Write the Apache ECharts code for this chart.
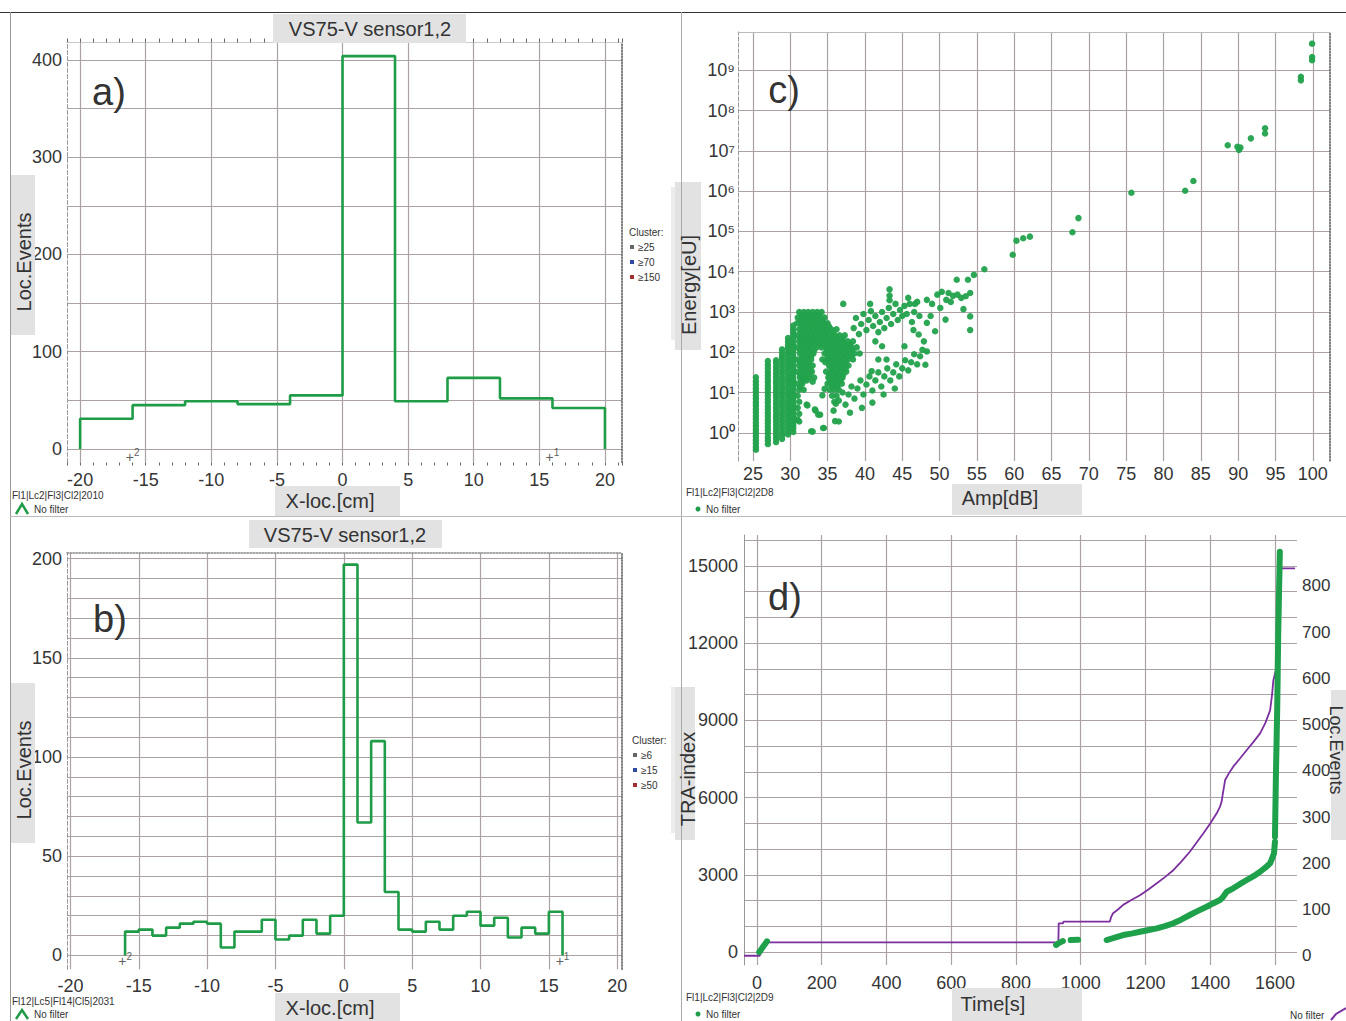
<!DOCTYPE html>
<html>
<head>
<meta charset="utf-8">
<title>VS75-V AE panels</title>
<script src="https://cdn.jsdelivr.net/npm/echarts@6.0.0/dist/echarts.min.js"></script>
<style>
html,body{margin:0;padding:0;background:#ffffff;}
#chart{width:1346px;height:1021px;}
</style>
</head>
<body>
<div id="chart"></div>
<script>
// ===================== DATA =====================
// a) located events per X-location, 4 cm bins
const aBinEdges = [-20, -16, -12, -8, -4, 0, 4, 8, 12, 16, 20];
const aCounts = [31, 45, 49, 46, 55, 404, 49, 73, 52, 42];
const aXTicks = [-20, -15, -10, -5, 0, 5, 10, 15, 20];
const aYTicks = [0, 100, 200, 300, 400];

// b) located events per X-location, 1 cm bins
const bBinEdges = [-16,-15,-14,-13,-12,-11,-10,-9,-8,-7,-6,-5,-4,-3,-2,-1,0,1,2,3,4,5,6,7,8,9,10,11,12,13,14,15,16];
const bCounts = [12,13,10,14,16,17,16,4,12,12,18,8,10,18,11,20,197,67,108,32,13,12,17,13,20,22,15,19,9,14,11,22];
const bXTicks = [-20, -15, -10, -5, 0, 5, 10, 15, 20];
const bYTicks = [0, 50, 100, 150, 200];

// sensor positions [x-loc, sensor number]
const sensorPos = [[-16, 2], [16, 1]];

// c) Energy vs amplitude, energy given as log10(Energy[eU])
const cStripeAmp = [25.4, 27.0, 28.1, 28.9, 29.7, 30.4];
const cStripeLogE = [
  [-0.42,-0.35,-0.26,-0.18,-0.09,0.0,0.08,0.17,0.25,0.34,0.42,0.51,0.59,0.68,0.76,0.85,0.93,1.02,1.1,1.19,1.28,1.38],
  [-0.28,-0.19,-0.11,-0.02,0.07,0.15,0.24,0.32,0.41,0.49,0.58,0.66,0.75,0.83,0.92,1.0,1.09,1.17,1.26,1.34,1.43,1.51,1.6,1.69,1.78],
  [-0.23,-0.14,-0.06,0.03,0.11,0.2,0.28,0.37,0.45,0.54,0.62,0.71,0.79,0.88,0.96,1.05,1.13,1.22,1.3,1.39,1.47,1.56,1.64,1.73,1.8],
  [-0.15,-0.06,0.02,0.11,0.19,0.28,0.36,0.45,0.53,0.62,0.7,0.79,0.87,0.96,1.04,1.13,1.21,1.3,1.38,1.47,1.55,1.64,1.72,1.81,1.89,1.98,2.07],
  [-0.04,0.05,0.13,0.22,0.3,0.39,0.47,0.56,0.64,0.73,0.81,0.9,0.98,1.07,1.15,1.24,1.32,1.41,1.49,1.58,1.66,1.75,1.83,1.92,2.0,2.09,2.17,2.26,2.35],
  [0.02,0.11,0.19,0.28,0.36,0.45,0.53,0.62,0.7,0.79,0.87,0.96,1.04,1.13,1.21,1.3,1.38,1.47,1.55,1.64,1.72,1.81,1.89,1.98,2.06,2.15,2.23,2.32,2.4,2.49,2.57,2.66]
];
// dense cluster: rows of [log10 E, amplitudes]
const cClusterRows = [
  [3.0,  [31.2,31.8,32.4,33.0,33.6,34.2]],
  [2.93, [31.5,32.1,32.7,33.3,33.9]],
  [2.86, [31.0,31.6,32.2,32.8,33.4,34.0,34.6]],
  [2.79, [31.3,31.9,32.5,33.1,33.7,34.3]],
  [2.72, [30.9,31.5,32.1,32.7,33.3,33.9,34.5,35.0]],
  [2.64, [31.5,32.1,32.7,33.3,33.9,34.5,35.2]],
  [2.57, [31.2,31.8,32.4,33.0,33.6,34.2,34.8,35.5,36.2]],
  [2.5,  [31.5,32.1,32.7,33.3,33.9,34.5,35.1,35.8]],
  [2.42, [31.0,31.6,32.2,32.8,33.4,34.0,34.6,35.2,35.9,36.6,37.3]],
  [2.35, [31.3,31.9,32.5,33.1,33.7,34.3,34.9,35.6,36.3,37.0]],
  [2.27, [31.2,31.8,32.4,33.0,33.6,34.3,35.0,35.6,36.3,37.0,37.7,38.4]],
  [2.2,  [31.5,32.1,32.7,33.3,34.0,34.6,35.3,35.9,36.6,37.3,38.0]],
  [2.12, [31.0,31.6,32.2,32.8,33.5,34.2,34.9,35.5,36.1,36.8,37.5,38.2,38.9]],
  [2.05, [31.3,31.9,32.5,33.2,34.9,35.6,36.2,36.9,37.6,38.3]],
  [1.97, [31.3,31.9,32.5,33.1,34.6,35.3,35.9,36.5,37.2,37.9,38.6,39.3]],
  [1.9,  [31.6,32.2,32.8,35.0,35.6,36.2,36.9,37.6,38.2]],
  [1.82, [31.0,31.6,32.2,32.8,34.3,35.0,35.7,36.3,37.0,37.7,38.4]],
  [1.75, [31.3,31.9,32.5,34.7,35.4,36.0,36.7,37.4]],
  [1.67, [31.2,31.8,32.4,33.0,35.2,35.8,36.5,37.1,37.8]],
  [1.6,  [31.5,32.1,32.7,35.5,36.2,36.8,37.4]],
  [1.52, [31.0,31.6,32.2,32.9,34.8,35.5,36.1,36.8,37.5]],
  [1.45, [31.3,31.9,32.6,35.2,35.8,36.5,37.1]],
  [1.37, [31.3,31.9,32.5,33.2,35.1,35.8,36.4,37.0]],
  [1.3,  [31.5,32.2,35.4,36.0,36.7]],
  [1.22, [31.0,31.6,35.0,35.6,36.2,36.9]],
  [1.15, [31.3,35.6,36.3]],
  [1.07, [31.2,31.8,35.3,35.9,36.5]],
  [0.92, [31.0,35.6,36.2]],
  [0.77, [31.2,35.9]],
  [0.62, [31.0]],
  [0.47, [31.2]],
  [0.32, [31.0]]
];
// individual hits [amp dB, log10 E]
const cHits = [
  [37.1,3.2],[38.5,2.6],[38.8,2.85],[39.2,2.45],[39.5,2.7],[39.8,2.95],[40.2,2.55],[40.5,2.8],[40.7,3.2],[40.8,3.02],
  [41.1,2.65],[41.4,2.9],[41.8,2.5],[42.0,2.75],[42.3,3.0],[42.6,2.6],[42.9,2.85],[43.2,3.1],[43.3,3.56],[43.3,3.41],
  [43.3,3.29],[43.5,2.7],[43.8,2.95],[44.1,3.2],[44.4,2.8],[44.7,3.05],[45.0,2.9],[45.3,3.15],[45.6,2.95],[45.8,3.35],
  [46.0,3.2],[46.3,2.75],[46.6,3.0],[46.7,3.2],[47.0,3.25],[47.3,2.9],[48.3,3.3],[48.8,2.9],[49.0,3.2],[49.7,3.43],
  [50.1,3.1],[50.3,3.5],[50.9,3.3],[51.2,3.47],[51.5,3.25],[51.8,3.4],[52.4,3.43],[52.9,3.35],[53.5,3.39],[53.8,3.8],
  [54.1,3.47],[53.2,3.07],
  [54.1,2.89],[54.1,2.55],[50.8,2.81],[49.4,2.52],[48.3,2.73],[47.2,2.44],[46.5,2.55],[47.9,2.27],[48.3,2.02],[48.1,1.69],
  [45.3,2.15],[41.4,2.27],[42.3,2.15],[41.8,1.82],[42.9,1.82],[40.9,1.53],
  [36.5,0.8],[37.0,1.0],[37.4,0.7],[37.8,0.95],[38.2,1.15],[38.6,0.85],[39.0,1.1],[39.4,1.3],[39.8,0.95],[40.2,1.2],
  [40.6,1.4],[41.0,1.05],[41.4,1.3],[41.8,1.5],[42.2,1.15],[42.6,1.4],[43.0,1.6],[43.4,1.3],[43.8,1.5],[44.2,1.7],
  [44.6,1.4],[45.0,1.6],[45.4,1.8],[45.8,1.55],[46.2,1.75],[46.6,1.95],[47.0,1.7],[47.4,1.9],[47.7,2.06],[44.0,1.1],
  [42.5,0.95],[41.0,0.75],[39.6,0.62],[38.0,0.5],
  [36.0,0.29],[34.4,0.12],[32.8,0.04],[32.2,0.7],[33.3,0.58],[34.0,0.45],[30.8,0.33],[32.3,0.68],[33.4,0.55],[33.75,0.45],
  [31.2,0.28],[33.0,0.03],[34.5,0.12],[35.8,0.55],[36.1,0.72],[36.5,0.28],[34.3,0.93],[34.6,1.09],[31.8,1.3],[33.0,1.27],
  [54.6,3.92],[56.0,4.06],[52.3,3.8],[59.8,4.42],[60.3,4.77],[61.2,4.83],[62.1,4.87],[67.8,4.98],[68.6,5.33],[75.7,5.96],
  [82.9,6.01],[84.0,6.25],[88.6,7.14],[89.9,7.1],[90.1,7.02],[90.3,7.08],[91.7,7.31],[93.6,7.56],[93.6,7.43],[98.4,8.84],
  [98.4,8.75],[99.9,9.66],[99.9,9.33],[99.9,9.25]
];
const cXTicks = [25,30,35,40,45,50,55,60,65,70,75,80,85,90,95,100];
const cYTickExp = [0,1,2,3,4,5,6,7,8,9];

// d) cumulative TRA-index (left) and located events (right) vs time; null = gap
const dTraCurve = [
  [7,0],[14,120],[20,230],[26,330],[31,420], null,
  [924,280],[932,350],[940,400],[945,430], null,
  [969,470],[992,480], null,
  [1080,470],[1100,540],[1131,664],[1160,730],[1183,793],[1210,860],[1235,923],[1260,1010],[1286,1118],[1310,1260],
  [1337,1441],[1362,1600],[1389,1763],[1410,1900],[1430,2023],[1440,2150],[1451,2346],[1471,2477],[1490,2630],[1513,2800],
  [1535,2960],[1554,3122],[1570,3280],[1585,3448],[1597,3837],[1600,4287], null,
  [1600,4482],[1603,6943],[1607,9530],[1610,12380],[1615,15550]
];
const dLocCurve = [
  [-40,0],[8,0],[14,8],[20,18],[26,29],[931,29],[932,70],[945,70],[947,74],[1090,74],[1094,84],[1100,92],[1115,100],
  [1131,110],[1155,120],[1183,131],[1210,144],[1235,157],[1260,170],[1286,185],[1310,203],[1337,225],[1358,245],[1379,265],
  [1400,286],[1420,308],[1430,322],[1435,333],[1440,355],[1446,380],[1458,395],[1471,409],[1490,425],[1513,445],[1533,462],
  [1554,481],[1570,503],[1585,531],[1591,565],[1595,596],[1603,618],[1608,700],[1612,838],[1662,838]
];
const dXTicks = [0,200,400,600,800,1000,1200,1400,1600];
const dYTicksLeft = [0,3000,6000,9000,12000,15000];
const dYTicksRight = [0,100,200,300,400,500,600,700,800];

// ===================== BUILD =====================
const FONT = '"Liberation Sans", Arial, Helvetica, sans-serif';
const GRID_C = '#aba3a3';
const NONE = 'rgba(0,0,0,0)';
const GREEN = '#1e9c47';
const PURPLE = '#7c2f9f';
const SUP = ['\u2070','\u00b9','\u00b2','\u00b3','\u2074','\u2075','\u2076','\u2077','\u2078','\u2079'];

function cycleColors(period, idx) {
  const arr = [];
  for (let i = 0; i < period; i++) arr.push(i === idx ? GRID_C : NONE);
  return arr;
}
function tickFmt(ticks, fmt) {
  return function (v) {
    for (const t of ticks) if (Math.abs(t - v) < 1e-6) return fmt ? fmt(t) : String(t);
    return '';
  };
}
function histSteps(edges, counts) {
  const pts = [[edges[0], 0]];
  for (let i = 0; i < counts.length; i++) {
    pts.push([edges[i], counts[i]]);
    pts.push([edges[i + 1], counts[i]]);
  }
  pts.push([edges[edges.length - 1], 0]);
  return pts;
}
function splitSegments(arr) {
  const segs = [];
  let cur = [];
  for (const p of arr) {
    if (p === null) { if (cur.length) segs.push(cur); cur = []; }
    else cur.push(p);
  }
  if (cur.length) segs.push(cur);
  return segs;
}

const cPoints = [];
cStripeAmp.forEach((a, i) => cStripeLogE[i].forEach(e => cPoints.push([a, e])));
cClusterRows.forEach(r => r[1].forEach(a => cPoints.push([a, r[0]])));
cHits.forEach(p => cPoints.push(p));

const labelStyle = { fontSize: 18, color: '#353535', fontFamily: FONT };

function mainX(grid, min, max, interval, period, idx, ticks, margin, tickShow) {
  return {
    type: 'value', gridIndex: grid, min, max, interval, position: 'bottom',
    axisLine: { show: false, onZero: false },
    axisTick: { show: !!tickShow, length: 3, lineStyle: { color: '#666' } },
    axisLabel: Object.assign({ formatter: tickFmt(ticks), margin }, labelStyle),
    splitLine: { show: true, lineStyle: { color: cycleColors(period, idx), width: 1.2 } }
  };
}
function mainY(grid, min, max, interval, period, idx, ticks, margin, fmt, lineStyle) {
  return {
    type: 'value', gridIndex: grid, min, max, interval, position: 'left',
    axisLine: { show: !!lineStyle, onZero: false, lineStyle: lineStyle || {} },
    axisTick: { show: false },
    axisLabel: Object.assign({ formatter: tickFmt(ticks, fmt), margin }, labelStyle),
    splitLine: { show: true, lineStyle: { color: cycleColors(period, idx), width: 1.2 } }
  };
}
function edgeAxis(grid, min, max, pos, style, interval, tick) {
  const ax = {
    type: 'value', gridIndex: grid, min, max, position: pos,
    axisLine: { show: true, onZero: false, lineStyle: style },
    axisTick: { show: !!tick, length: 4, inside: false, lineStyle: { color: '#666' } },
    axisLabel: { show: false },
    splitLine: { show: false }
  };
  if (interval) ax.interval = interval;
  return ax;
}

const dotted = { type: 'dotted', color: '#555', width: 1.5 };

const xAxes = [
  mainX(0, -21, 21.3, 1, 5, 1, aXTicks, 8, true),                        // 0 a bottom
  edgeAxis(0, -21, 21.3, 'top', { color: '#ccc', width: 1 }, 1, true),    // 1 a top
  mainX(1, -20.25, 20.35, 0.25, 20, 1, bXTicks, 8, false),               // 2 b bottom
  edgeAxis(1, -20.25, 20.35, 'top', { color: '#888', type: 'dotted', width: 1.5 }), // 3 b top
  mainX(2, 23, 102.3, 1, 5, 2, cXTicks, 4, false),                       // 4 c bottom
  mainX(3, -40, 1668, 10, 20, 4, dXTicks, 9, false),                     // 5 d bottom
  edgeAxis(2, 23, 102.3, 'top', { color: '#bbb', width: 1 })             // 6 c top
];
const yAxes = [
  mainY(0, -14, 418, 2, 25, 7, aYTicks, 5, null, { color: '#999', type: 'dashed' }),          // 0 a left
  edgeAxis(0, -14, 418, 'right', dotted),                                                      // 1 a right
  mainY(1, -7, 203, 1, 10, 7, bYTicks, 5, null, { color: '#999', type: 'dashed' }),            // 2 b left
  edgeAxis(1, -7, 203, 'right', dotted),                                                       // 3 b right
  mainY(2, -0.7, 9.95, 0.1, 10, 7, cYTickExp, 3, e => '10' + SUP[e], { color: '#999', type: 'dashed' }), // 4 c left
  edgeAxis(2, -0.7, 9.95, 'right', dotted),                                                    // 5 c right
  mainY(3, -500, 16200, 500, 2, 1, dYTicksLeft, 6, null, { color: '#999' }),                  // 6 d left
  {                                                                                            // 7 d right
    type: 'value', gridIndex: 3, min: -20, max: 910, interval: 10, position: 'right',
    axisLine: { show: false, onZero: false }, axisTick: { show: false },
    axisLabel: Object.assign({ formatter: tickFmt(dYTicksRight), margin: 5 }, labelStyle, { fontSize: 17 }),
    splitLine: { show: false }
  }
];

const series = [
  { type: 'line', xAxisIndex: 0, yAxisIndex: 0, data: histSteps(aBinEdges, aCounts), symbol: 'none',
    lineStyle: { color: GREEN, width: 2.6 }, z: 5 },
  { type: 'line', xAxisIndex: 2, yAxisIndex: 2, data: histSteps(bBinEdges, bCounts), symbol: 'none',
    lineStyle: { color: GREEN, width: 2.6 }, z: 5 },
  { type: 'scatter', xAxisIndex: 0, yAxisIndex: 0, data: sensorPos.map(s => [s[0], -8, s[1]]), symbolSize: 1,
    itemStyle: { color: NONE },
    label: { show: true, position: 'inside', formatter: p => '+{s|' + p.value[2] + '}',
      fontSize: 14, color: '#333', fontFamily: FONT,
      rich: { s: { fontSize: 10, color: '#333', padding: [0, 0, 9, 0], fontFamily: FONT } } } },
  { type: 'scatter', xAxisIndex: 2, yAxisIndex: 2, data: sensorPos.map(s => [s[0], -3, s[1]]), symbolSize: 1,
    itemStyle: { color: NONE },
    label: { show: true, position: 'inside', formatter: p => '+{s|' + p.value[2] + '}',
      fontSize: 14, color: '#333', fontFamily: FONT,
      rich: { s: { fontSize: 10, color: '#333', padding: [0, 0, 9, 0], fontFamily: FONT } } } },
  { type: 'scatter', xAxisIndex: 4, yAxisIndex: 4, data: cPoints, symbol: 'circle', symbolSize: 6.5,
    itemStyle: { color: '#22a24c', opacity: 0.95 }, z: 5 },
  { type: 'line', xAxisIndex: 5, yAxisIndex: 7, data: dLocCurve, symbol: 'none',
    lineStyle: { color: PURPLE, width: 1.8 }, z: 4 }
];
splitSegments(dTraCurve).forEach(seg => {
  series.push({ type: 'line', xAxisIndex: 5, yAxisIndex: 6, data: seg, symbol: 'none',
    lineStyle: { color: '#1fa04a', width: 6, cap: 'round', join: 'round' }, z: 6 });
});

// ---------- decorations (boxes, names, captions) ----------
const G = [];
function rect(x, y, w, h, fill) {
  G.push({ type: 'rect', z: 20, shape: { x, y, width: w, height: h }, style: { fill }, silent: true });
}
function text(x, y, str, size, o) {
  o = o || {};
  G.push({ type: 'text', z: 21, x, y, rotation: o.rot || 0, silent: true,
    style: { text: str, x: 0, y: 0, font: (o.weight || 'normal') + ' ' + size + 'px ' + FONT,
      fill: o.color || '#333', textAlign: o.align || 'center', textVerticalAlign: 'middle',
      align: o.align || 'center', verticalAlign: 'middle' } });
}
function seg(pts, stroke, w) {
  G.push({ type: 'polyline', z: 21, shape: { points: pts }, style: { stroke, lineWidth: w || 1, fill: null }, silent: true });
}
function dot(x, y, r, fill) {
  G.push({ type: 'circle', z: 21, shape: { cx: x, cy: y, r }, style: { fill }, silent: true });
}

// panel frame lines
seg([[0, 12.5], [1346, 12.5]], '#333', 1);
seg([[10.5, 12], [10.5, 1021]], '#999', 1);
seg([[681.5, 12], [681.5, 1021]], '#aaa', 1);
seg([[10, 516.5], [1346, 516.5]], '#bbb', 1);

// a)
rect(273, 14, 193, 29, '#e2e2e2');
text(370, 28.5, 'VS75-V sensor1,2', 20);
rect(11, 175, 24, 160, '#e2e2e2');
text(24, 262, 'Loc.Events', 20, { rot: Math.PI / 2 });
rect(275, 486, 125, 30, '#e2e2e2');
text(330, 501, 'X-loc.[cm]', 20);
rect(671, 187, 9, 153, '#ececec');
text(109, 92, 'a)', 38);
text(12, 495, 'Fl1|Lc2|Fl3|Cl2|2010', 10, { align: 'left' });
seg([[16, 514], [22, 504], [28, 514]], GREEN, 2.5);
text(34, 509, 'No filter', 10, { align: 'left' });
text(629, 232, 'Cluster:', 10, { align: 'left' });
rect(630, 245, 4, 4, '#666'); text(638, 247, '\u226525', 10, { align: 'left' });
rect(630, 260, 4, 4, '#2f4aa0'); text(638, 262, '\u226570', 10, { align: 'left' });
rect(630, 275, 4, 4, '#a33030'); text(638, 277, '\u2265150', 10, { align: 'left' });

// b)
rect(249, 520, 193, 28, '#e2e2e2');
text(345, 535, 'VS75-V sensor1,2', 20);
rect(11, 683, 24, 160, '#e2e2e2');
text(24, 770, 'Loc.Events', 20, { rot: Math.PI / 2 });
rect(275, 993, 125, 28, '#e2e2e2');
text(330, 1008, 'X-loc.[cm]', 20);
rect(671, 687, 9, 146, '#ececec');
text(110, 619, 'b)', 38);
text(12, 1001, 'Fl12|Lc5|Fl14|Cl5|2031', 10, { align: 'left' });
seg([[16, 1019], [22, 1010], [28, 1019]], GREEN, 2.5);
text(34, 1014, 'No filter', 10, { align: 'left' });
text(632, 740, 'Cluster:', 10, { align: 'left' });
rect(633, 753, 4, 4, '#666'); text(641, 755, '\u22656', 10, { align: 'left' });
rect(633, 768, 4, 4, '#2f4aa0'); text(641, 770, '\u226515', 10, { align: 'left' });
rect(633, 783, 4, 4, '#a33030'); text(641, 785, '\u226550', 10, { align: 'left' });

// c)
rect(952, 484, 130, 31, '#e2e2e2');
text(1000, 498, 'Amp[dB]', 20);
rect(675, 182, 26, 168, '#e2e2e2');
text(689, 285, 'Energy[eU]', 20, { rot: Math.PI / 2 });
text(784, 90, 'c)', 38);
text(686, 492, 'Fl1|Lc2|Fl3|Cl2|2D8', 10, { align: 'left' });
dot(698, 509, 2.5, GREEN);
text(706, 509, 'No filter', 10, { align: 'left' });

// d)
rect(952, 988, 130, 33, '#e2e2e2');
text(993, 1004, 'Time[s]', 20);
rect(675, 687, 20, 153, '#e2e2e2');
text(688, 779, 'TRA-index', 20, { rot: Math.PI / 2 });
rect(1331, 690, 15, 150, '#e2e2e2');
text(1336, 750, 'Loc.Events', 18, { rot: -Math.PI / 2 });
text(785, 597, 'd)', 38);
text(686, 997, 'Fl1|Lc2|Fl3|Cl2|2D9', 10, { align: 'left' });
dot(698, 1014, 2.5, GREEN);
text(706, 1014, 'No filter', 10, { align: 'left' });
text(1290, 1015, 'No filter', 10, { align: 'left' });
seg([[1331, 1020], [1336, 1014], [1346, 1008]], PURPLE, 2);

const option = {
  animation: false,
  backgroundColor: '#ffffff',
  grid: [
    { left: 67, top: 42.5, width: 555, height: 420 },
    { left: 67, top: 552.7, width: 555, height: 416.6 },
    { left: 738, top: 32, width: 592, height: 429 },
    { left: 744, top: 535, width: 553, height: 430 }
  ],
  xAxis: xAxes,
  yAxis: yAxes,
  series: series,
  graphic: { elements: G }
};

const chart = echarts.init(document.getElementById('chart'), null, { renderer: 'svg', width: 1346, height: 1021 });
chart.setOption(option);
</script>
</body>
</html>
